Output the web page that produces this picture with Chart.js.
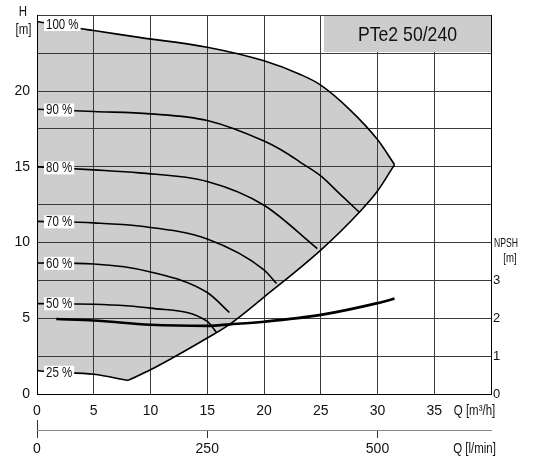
<!DOCTYPE html>
<html>
<head>
<meta charset="utf-8">
<title>PTe2 50/240</title>
<script src="https://cdn.jsdelivr.net/npm/chart.js@4/dist/chart.umd.min.js"></script>
<style>
  html, body { margin: 0; padding: 0; background: #fff; }
  #wrap { width: 534px; height: 459px; }
</style>
</head>
<body>
<div id="wrap"><canvas id="pumpChart" width="534" height="459"></canvas></div>
<script>
// Flow Q [m³/h] and head H [m] for each speed curve
const q100 = [0, 3.6, 5, 9, 15, 20, 23.2, 25, 27.6, 30, 31.5];
const h100 = [24.6, 24.15, 24.0, 23.55, 22.9, 22.0, 21.1, 20.4, 18.75, 16.8, 15.15];
const q90 = [0, 5, 10, 15, 20, 22, 23.2, 25, 26.7, 28.4];
const h90 = [18.8, 18.65, 18.5, 18.06, 16.7, 15.9, 15.3, 14.4, 13.2, 12.0];
const q80 = [0, 5, 9, 15, 20, 24.7];
const h80 = [15.0, 14.8, 14.6, 14.03, 12.46, 9.6];
const q70 = [0, 5, 9, 15, 20, 21.1];
const h70 = [11.4, 11.3, 11.09, 10.24, 8.2, 7.3];
const q60 = [0, 5, 10, 15, 16.95];
const h60 = [8.65, 8.58, 8.06, 6.7, 5.38];
const q50 = [0, 5, 10, 15, 15.8];
const h50 = [5.97, 5.93, 5.67, 4.8, 4.07];
const q25 = [0, 1, 5, 8];
const h25 = [1.55, 1.46, 1.3, 0.9];

// Right-hand limit of the operating range
const qLimit = [8, 10, 15, 17, 20, 25, 28.4, 30, 31.5];
const hLimit = [0.9, 1.6, 3.7, 4.62, 6.4, 9.5, 12.0, 13.4, 15.15];

// NPSH [m]
const qNpsh = [1.7, 5, 10, 15, 17, 20, 25, 30, 31.5];
const npsh = [1.98, 1.94, 1.83, 1.80, 1.84, 1.91, 2.09, 2.40, 2.52];

const speedLabels = ['100 %', '90 %', '80 %', '70 %', '60 %', '50 %', '25 %'];
const qM3hTicks = [0, 5, 10, 15, 20, 25, 30, 35];
const hTicks = [0, 5, 10, 15, 20];
const qLminTicks = [0, 250, 500];
const npshTicks = [0, 1, 2, 3];

const FONT = "'Liberation Sans', Arial, sans-serif";
const NARROW = 0.82;   // horizontal squeeze for the condensed lettering
const GREY = '#cdcdcd';
const GRID = '#3a3a3a';
const INK = '#111';

const pts = (xs, ys) => xs.map((x, i) => ({ x: x, y: ys[i] }));

const curves = [[q100, h100], [q90, h90], [q80, h80], [q70, h70], [q60, h60], [q50, h50], [q25, h25]];

// lower edge of the grey field: 25 % curve, then the limit line up to the top corner
const lowerEdge = pts(q25, h25).concat(pts(qLimit.slice(1), hLimit.slice(1)));

const lineDs = (data, extra) => Object.assign({
  data: data,
  borderColor: '#000',
  borderWidth: 1.6,
  pointRadius: 0,
  cubicInterpolationMode: 'monotone',
  fill: false,
  xAxisID: 'x',
  yAxisID: 'y'
}, extra || {});

const datasets = [
  lineDs(pts(q100, h100), { fill: { target: 1, above: GREY, below: GREY } }),
  lineDs(lowerEdge, { borderWidth: 0, borderColor: 'rgba(0,0,0,0)' }),
  lineDs(pts(q25, h25)),
  lineDs(pts(qLimit, hLimit))
];
curves.slice(1, 6).forEach(c => datasets.push(lineDs(pts(c[0], c[1]))));
datasets.push(lineDs(pts(qNpsh, npsh), { yAxisID: 'y2', borderWidth: 2.6 }));

// linear interpolation along a curve, used to place the speed labels
function headAt(xs, ys, q) {
  for (let i = 1; i < xs.length; i++) {
    if (q <= xs[i]) {
      const t = (q - xs[i - 1]) / (xs[i] - xs[i - 1]);
      return ys[i - 1] + t * (ys[i] - ys[i - 1]);
    }
  }
  return ys[ys.length - 1];
}

function narrowText(ctx, text, x, y, size, align, squeeze) {
  ctx.save();
  ctx.font = size + 'px ' + FONT;
  ctx.textAlign = align;
  ctx.textBaseline = 'middle';
  ctx.translate(x, y);
  ctx.scale(squeeze || NARROW, 1);
  ctx.fillText(text, 0, 0);
  ctx.restore();
}

const decorations = {
  id: 'decorations',
  afterDraw(chart) {
    const ctx = chart.ctx;
    const x = chart.scales.x, y = chart.scales.y, area = chart.chartArea;
    ctx.save();

    // type box in the top right corner
    const bx = Math.round(x.getPixelForValue(25.3));
    const by = Math.round(area.top) + 1;
    const bb = Math.round(y.getPixelForValue(22.5)) - 1;
    ctx.fillStyle = GREY;
    ctx.fillRect(bx, by, Math.round(area.right) - bx, bb - by);
    ctx.fillStyle = INK;
    narrowText(ctx, 'PTe2 50/240', (bx + area.right) / 2, (by + bb) / 2 + 1, 21, 'center', 0.84);

    // speed labels on white patches
    ctx.font = '14px ' + FONT;
    const lx = x.getPixelForValue(0) + 9;
    curves.forEach((c, i) => {
      const text = speedLabels[i];
      const w = ctx.measureText(text).width * NARROW;
      const py = y.getPixelForValue(headAt(c[0], c[1], 1.6));
      ctx.fillStyle = '#fff';
      ctx.fillRect(lx - 2, py - 6.5, w + 4, 13);
      ctx.fillStyle = INK;
      narrowText(ctx, text, lx, py + 0.5, 14, 'left');
    });

    // axis titles
    narrowText(ctx, 'H', 23, 12, 14, 'center');
    narrowText(ctx, '[m]', 23.5, 30, 14, 'center');
    narrowText(ctx, 'Q [m³/h]', 474.5, 411.5, 14, 'center');
    narrowText(ctx, 'Q [l/min]', 474.5, 449.5, 14, 'center');
    narrowText(ctx, 'NPSH', 506, 244, 12, 'center', 0.72);
    narrowText(ctx, '[m]', 510, 259, 12, 'center', 0.8);

    // short upward stub at the start of the l/min axis
    const x2 = chart.scales.x2;
    ctx.strokeStyle = '#333';
    ctx.lineWidth = 1;
    ctx.beginPath();
    ctx.moveTo(Math.round(area.left) + 0.5, x2.top - 10);
    ctx.lineTo(Math.round(area.left) + 0.5, x2.top);
    ctx.stroke();
    ctx.restore();
  }
};

const tickFont = { family: FONT, size: 14 };
const setTicks = list => scale => { scale.ticks = list.map(v => ({ value: v })); };

const config = {
  type: 'line',
  data: { datasets: datasets },
  options: {
    responsive: false,
    animation: false,
    layout: { padding: { top: 12, left: 0, right: 0, bottom: 0 } },
    plugins: {
      legend: { display: false },
      tooltip: { enabled: false },
      filler: { drawTime: 'beforeDraw' }
    },
    scales: {
      x: {
        type: 'linear', position: 'bottom', weight: 0,
        min: 0, max: 40,
        afterBuildTicks: setTicks(qM3hTicks.concat([40])),
        afterFit: s => { s.height = 36; },
        grid: { color: GRID, drawTicks: false },
        border: { color: '#000' },
        ticks: { padding: 9, color: INK, font: tickFont, callback: v => (v < 40 ? v : '') }
      },
      x2: {
        type: 'linear', position: 'bottom', weight: 1,
        min: 0, max: 40 * 1000 / 60,
        afterBuildTicks: setTicks(qLminTicks),
        afterFit: s => { s.height = 29; },
        grid: { drawOnChartArea: false, drawTicks: true, tickLength: 8, color: '#333' },
        border: { color: '#888' },
        ticks: { padding: 3, color: INK, font: tickFont }
      },
      y: {
        type: 'linear', position: 'left',
        min: 0, max: 25,
        afterBuildTicks: setTicks([0, 2.5, 5, 7.5, 10, 12.5, 15, 17.5, 20, 22.5, 25]),
        afterFit: s => { s.width = 37; },
        grid: { color: GRID, drawTicks: false },
        border: { color: '#000' },
        ticks: { padding: 7, color: INK, font: tickFont, callback: v => (hTicks.includes(v) ? v : '') }
      },
      y2: {
        type: 'linear', position: 'right',
        min: 0, max: 10,
        afterBuildTicks: setTicks(npshTicks),
        afterFit: s => { s.width = 43; },
        grid: { drawOnChartArea: false, drawTicks: false },
        border: { color: '#000' },
        ticks: { padding: 2, color: INK, font: { family: FONT, size: 13 } }
      }
    }
  },
  plugins: [decorations]
};

window.onload = function () {
  const ctx = document.getElementById('pumpChart').getContext('2d');
  new Chart(ctx, config);
};
</script>
</body>
</html>
